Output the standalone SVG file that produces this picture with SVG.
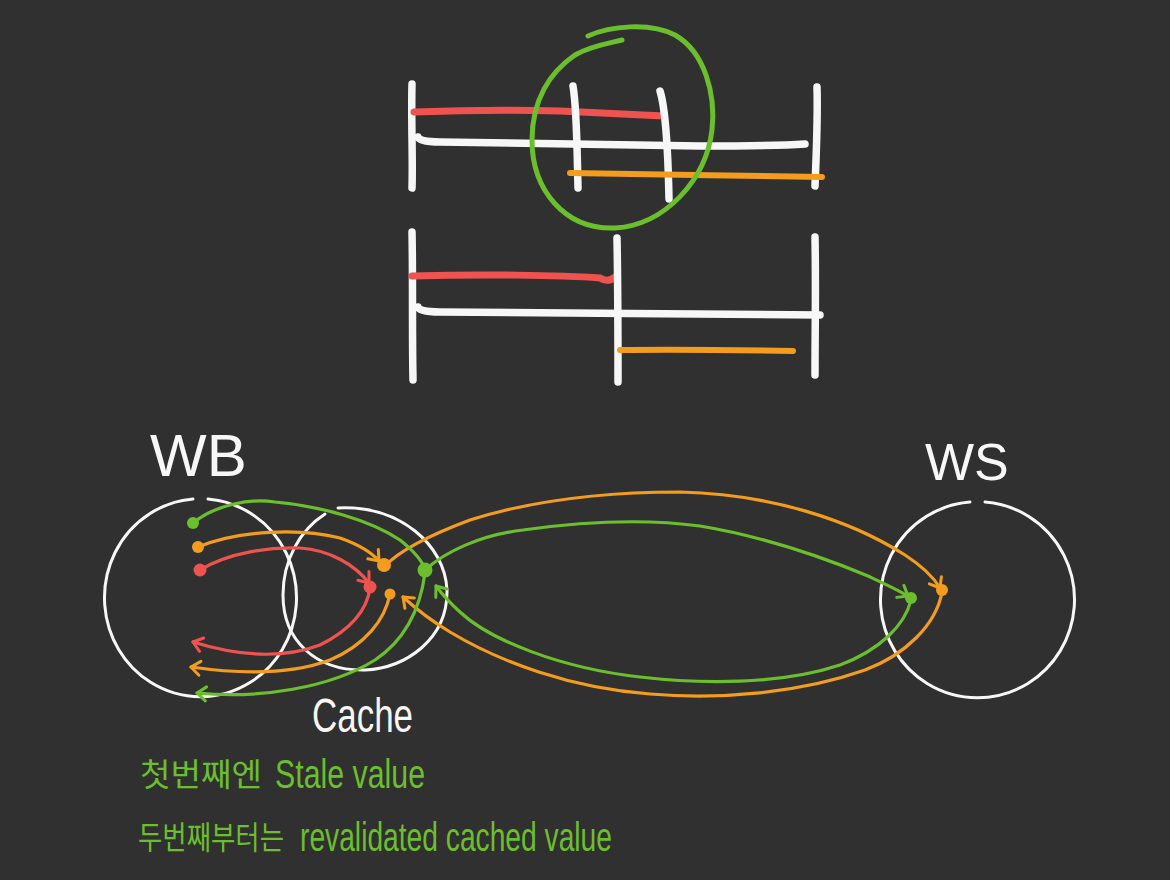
<svg xmlns="http://www.w3.org/2000/svg" width="1170" height="880" viewBox="0 0 1170 880">
<defs>
<style>
.w{fill:none;stroke:#f7f7f7;stroke-width:7.5;stroke-linecap:round;stroke-linejoin:round}
.wc{fill:none;stroke:#f7f7f7;stroke-width:3;stroke-linecap:round;stroke-linejoin:round}
.rb{fill:none;stroke:#ef5350;stroke-width:7;stroke-linecap:round}
.ob{fill:none;stroke:#f39c1d;stroke-width:6;stroke-linecap:round}
.gb{fill:none;stroke:#6cbf2c;stroke-width:5;stroke-linecap:round;stroke-linejoin:round}
.r{fill:none;stroke:#ef5350;stroke-width:3.2;stroke-linecap:round}
.o{fill:none;stroke:#f39c1d;stroke-width:3.2;stroke-linecap:round}
.g{fill:none;stroke:#6cbf2c;stroke-width:3.2;stroke-linecap:round}
.rd{fill:#ef5350}.od{fill:#f39c1d}.gd{fill:#6cbf2c}
.lbl{fill:#f7f7f7;font-family:"Liberation Sans",Arial,sans-serif}
.gt{fill:#6cbf2c;font-family:"Liberation Sans",sans-serif;font-size:40px}
.gk{fill:#6cbf2c;font-family:"Noto Sans CJK KR",sans-serif;font-size:32px}
</style>
<marker id="ar" viewBox="-12 -10 14 20" refX="0" refY="0" markerWidth="14" markerHeight="20" markerUnits="userSpaceOnUse" orient="auto"><path d="M-9,-7 L0,0 L-9,7" fill="none" stroke="#ef5350" stroke-width="3" stroke-linecap="round" stroke-linejoin="round"/></marker>
<marker id="ao" viewBox="-12 -10 14 20" refX="0" refY="0" markerWidth="14" markerHeight="20" markerUnits="userSpaceOnUse" orient="auto"><path d="M-9,-7 L0,0 L-9,7" fill="none" stroke="#f39c1d" stroke-width="3" stroke-linecap="round" stroke-linejoin="round"/></marker>
<marker id="ag" viewBox="-12 -10 14 20" refX="0" refY="0" markerWidth="14" markerHeight="20" markerUnits="userSpaceOnUse" orient="auto"><path d="M-9,-7 L0,0 L-9,7" fill="none" stroke="#6cbf2c" stroke-width="3" stroke-linecap="round" stroke-linejoin="round"/></marker>
</defs>
<rect width="1170" height="880" fill="#303030"/>

<g id="timeline-1">
<path class="w" d="M412,84 C411,120 413,160 412,188"/>
<path class="rb" d="M414,112 C470,110 520,110 560,111 C600,113 640,115 664,116"/>
<path class="w" d="M418,137 Q419,142 440,142 C520,143 600,145 700,146 C760,146 790,145 805,144"/>
<path class="w" d="M573,86 C577,110 577,150 578,188"/>
<path class="w" d="M660,91 C666,110 668,150 669,199"/>
<path class="w" d="M817,87 C818,120 816,160 815,186"/>
<path class="ob" d="M570,173 C650,174 740,176 822,177"/>
<path class="gb" d="M588,36 C610,26 650,22 675,35 C705,52 716,95 712,130 C706,180 665,225 615,228 C565,230 532,190 532,140 C532,100 550,72 575,55 C590,46 610,43 622,40"/>
</g>

<g id="timeline-2">
<path class="w" d="M412,232 C413,280 412,330 413,380"/>
<path class="rb" d="M412,276 C480,274 560,275 600,278 Q608,283 615,277"/>
<path class="w" d="M418,307 Q419,312 440,312 C560,312 700,315 820,315"/>
<path class="w" d="M617,238 C618,290 618,340 618,382"/>
<path class="w" d="M815,237 C816,290 815,330 815,375"/>
<path class="ob" d="M620,350 C680,349 740,350 793,351"/>
</g>

<g id="WB">
<path class="wc" d="M208,499 A96,99 0 1 1 193,499"/>
<text class="lbl" x="150" y="476" font-size="60">WB</text>
<circle class="gd" cx="193" cy="523" r="6"/>
<circle class="od" cx="198" cy="547" r="6"/>
<circle class="rd" cx="200" cy="570" r="6.5"/>
</g>

<g id="Cache">
<path class="wc" d="M338,508 C400,505 445,545 447,590 C448,640 405,668 365,670 C315,671 283,640 283,595 C283,560 300,530 325,514"/>
<text class="lbl" x="312" y="732" font-size="48" textLength="101" lengthAdjust="spacingAndGlyphs">Cache</text>
<circle class="od" cx="384" cy="565" r="7"/>
<circle class="rd" cx="370" cy="587" r="6.5"/>
<circle class="od" cx="390" cy="594" r="5.5"/>
<circle class="gd" cx="425" cy="570" r="7.5"/>
</g>

<g id="WS">
<path class="wc" d="M985,502 A97,98 0 1 1 970,502"/>
<text class="lbl" x="925" y="480" font-size="52">WS</text>
<circle class="gd" cx="911" cy="598" r="6"/>
<circle class="od" cx="942" cy="590" r="6"/>
</g>

<g id="connectors">
<path class="r" marker-end="url(#ar)" d="M200,570 C230,552 270,547 300,548 C330,550 355,565 369,583"/>
<path class="r" marker-end="url(#ar)" d="M370,588 C367,610 350,630 320,645 C280,660 235,655 193,642"/>
<path class="o" marker-end="url(#ao)" d="M198,547 C240,530 300,528 340,538 C360,545 372,553 379,561"/>
<path class="o" marker-end="url(#ao)" d="M385,566 C400,550 430,535 470,520 C540,498 620,492 680,492 C770,494 850,520 905,555 C925,568 934,578 940,588"/>
<path class="o" marker-end="url(#ao)" d="M942,592 C936,625 905,655 865,670 C800,693 720,700 650,694 C570,688 500,662 450,632 C430,620 415,608 403,597"/>
<path class="o" marker-end="url(#ao)" d="M390,594 C385,620 365,645 330,660 C290,675 240,674 191,667"/>
<path class="g" d="M193,523 C215,505 250,498 275,502 C320,506 370,520 400,540 C415,552 423,562 425,570"/>
<path class="g" marker-end="url(#ag)" d="M425,570 C445,552 480,535 523,530 C580,522 640,518 700,526 C760,536 820,556 868,576 C885,584 898,590 908,596"/>
<path class="g" marker-end="url(#ag)" d="M911,600 C905,625 880,650 840,665 C780,685 700,684 640,677 C560,668 490,640 460,612 C450,603 442,594 436,586"/>
<path class="g" marker-end="url(#ag)" d="M425,573 C420,610 405,640 375,660 C330,688 260,699 197,693"/>
</g>

<g id="notes">
<text class="gk" x="140" y="786" textLength="122" lengthAdjust="spacingAndGlyphs">첫번째엔</text>
<text class="gt" x="275" y="788" textLength="150" lengthAdjust="spacingAndGlyphs">Stale value</text>
<text class="gk" x="138" y="849" textLength="146" lengthAdjust="spacingAndGlyphs">두번째부터는</text>
<text class="gt" x="300" y="851" textLength="312" lengthAdjust="spacingAndGlyphs">revalidated cached value</text>
</g>
</svg>
